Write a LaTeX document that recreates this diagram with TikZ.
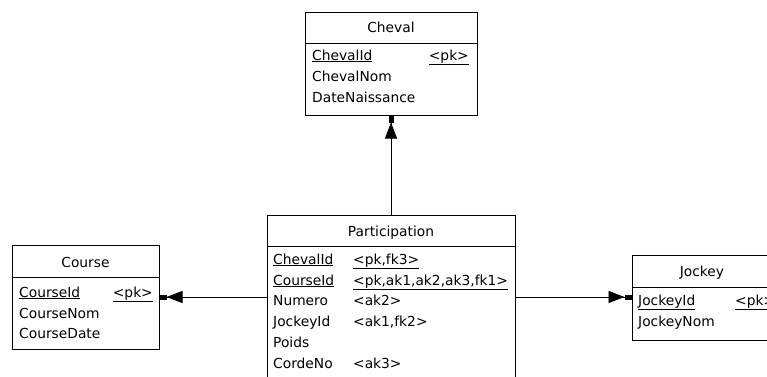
\documentclass[tikz,border=0pt]{standalone}
\usepackage{fontspec}
\setmainfont{DejaVu Sans}
\usetikzlibrary{arrows.meta}
\begin{document}
\begin{tikzpicture}[x=1pt,y=-1pt,
  box/.style={draw=black,line width=1pt,fill=white,inner sep=0pt},
  txt/.style={anchor=base west,inner sep=0pt,font=\fontsize{13.8}{16}\selectfont},
  txte/.style={anchor=base east,inner sep=0pt,font=\fontsize{13.8}{16}\selectfont},
  ttl/.style={anchor=base,inner sep=0pt,font=\fontsize{13.8}{16}\selectfont},
  rel/.style={line width=0.9pt,-{Triangle[length=16pt,width=12pt,sep=0pt]Rectangle[length=7pt,width=5pt,sep=0pt]}}
]
\useasboundingbox (0,0) rectangle (767,376);
\clip (0,0) rectangle (767,376);
\fill[white] (0,0) rectangle (767,376);

% Cheval
\node[box,minimum width=172pt,minimum height=31pt] (chevalH) at (391,27.5) {};
\node[box,minimum width=172pt,minimum height=72pt] (chevalB) at (391,79) {};
\node[ttl] (chevalT) at (391,32) {Cheval};
\node[txt] (chevalR1) at (312,60) {\underline{ChevalId}};
\node[txte] (chevalK1) at (469,60) {\underline{<pk>}};
\node[txt] (chevalR2) at (312,81) {ChevalNom};
\node[txt] (chevalR3) at (312,102) {DateNaissance};

% Participation
\node[box,minimum width=248pt,minimum height=31pt] (partH) at (391,230.5) {};
\node[box,minimum width=248pt,minimum height=154pt] (partB) at (391,323) {};
\node[ttl] (partT) at (391,236) {Participation};
\node[txt] (partR1) at (273,264) {\underline{ChevalId}};
\node[txt] (partK1) at (353,264) {\underline{<pk,fk3>}};
\node[txt] (partR2) at (273,285) {\underline{CourseId}};
\node[txt] (partK2) at (353,285) {\underline{<pk,ak1,ak2,ak3,fk1>}};
\node[txt] (partR3) at (273,305.5) {Numero};
\node[txt] (partK3) at (353,305.5) {<ak2>};
\node[txt] (partR4) at (273,326.3) {JockeyId};
\node[txt] (partK4) at (353,326.3) {<ak1,fk2>};
\node[txt] (partR5) at (273,347) {Poids};
\node[txt] (partR6) at (273,368) {CordeNo};
\node[txt] (partK6) at (353,368) {<ak3>};

% Course
\node[box,minimum width=147pt,minimum height=32pt] (courseH) at (85.5,261) {};
\node[box,minimum width=147pt,minimum height=72pt] (courseB) at (85.5,313) {};
\node[ttl] (courseT) at (85.5,267) {Course};
\node[txt] (courseR1) at (19,297) {\underline{CourseId}};
\node[txte] (courseK1) at (153,297) {\underline{<pk>}};
\node[txt] (courseR2) at (19,318) {CourseNom};
\node[txt] (courseR3) at (19,338) {CourseDate};

% Jockey
\node[box,minimum width=140pt,minimum height=32pt] (jockeyH) at (702,271) {};
\node[box,minimum width=140pt,minimum height=53pt] (jockeyB) at (702,313.5) {};
\node[ttl] (jockeyT) at (702,276) {Jockey};
\node[txt] (jockeyR1) at (638,305) {\underline{JockeyId}};
\node[txt] (jockeyK1) at (735,305) {\underline{<pk>}};
\node[txt] (jockeyR2) at (638,326) {JockeyNom};

% Relations
\coordinate (lvl) at (0,297);
\draw[rel] (partH.north) -- (chevalB.south);
\draw[rel] (partB.west |- lvl) -- (courseB.east |- lvl);
\draw[rel] (partB.east |- lvl) -- (jockeyB.west |- lvl);
\end{tikzpicture}
\end{document}
